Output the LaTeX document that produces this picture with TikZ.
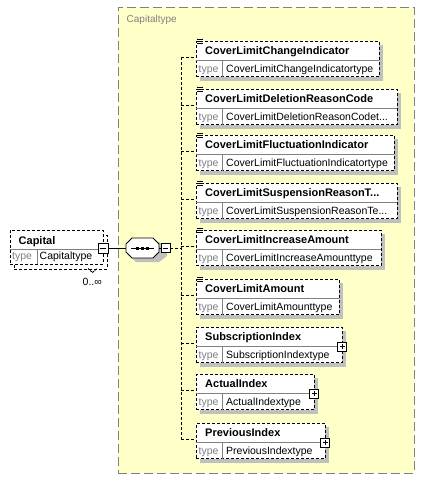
\documentclass[tikz,border=0pt]{standalone}
\usepackage{fontspec}
\setmainfont{Liberation Sans}
\usetikzlibrary{calc}
\definecolor{ylw}{HTML}{FFFFC8}
\definecolor{shadowc}{HTML}{C0C0C0}
\definecolor{divc}{HTML}{808080}
\definecolor{ctborder}{HTML}{808080}
\tikzset{
  lw/.style={line width=0.9pt},
  elbox/.style={draw, lw, dash pattern=on 3pt off 2pt, fill=white, inner sep=0pt, outer sep=0pt,
    anchor=north west, minimum height=35.5pt,
    preaction={fill=shadowc, transform canvas={xshift=4pt,yshift=-4pt}}},
  capframe/.style={draw, lw, dash pattern=on 3pt off 2pt, fill=white, inner sep=0pt, outer sep=0pt,
    anchor=north west, minimum width=93pt, minimum height=34pt},
  ctbox/.style={draw=ctborder, lw, dash pattern=on 9pt off 4pt, fill=ylw, inner sep=0pt, outer sep=0pt,
    anchor=north west, minimum width=296pt, minimum height=466pt},
  divline/.style={draw=divc, lw},
  conn/.style={lw, dash pattern=on 3pt off 2pt},
  nametxt/.style={font=\fontsize{11}{13}\selectfont\bfseries, inner sep=0pt, anchor=base west},
  typetxt/.style={font=\fontsize{10.5}{12}\selectfont, inner sep=0pt, anchor=base west},
  typelbl/.style={typetxt, text=divc},
  ctlbl/.style={font=\fontsize{10}{12}\selectfont, text=divc, inner sep=0pt, anchor=base west},
  sqbox/.style={draw, lw, fill=white, inner sep=0pt, outer sep=0pt, minimum size=9pt},
  sign/.style={lw, shorten >=2pt, shorten <=2pt},
}
% element box: id, top, right, name, type, icon, plus
\newcommand\xel[7]{%
  \node[elbox, minimum width={#3pt-196pt}] (#1) at (196,#2) {};
  \draw[divline] (196,{#2+19.5}) -- (#3,{#2+19.5});
  \draw[divline] (222,{#2+19.5}) -- (222,{#2+35.5});
  \node[nametxt] (#1n) at (205,{#2+13}) {#4};
  \node[typelbl] (#1l) at (198.5,{#2+31}) {type};
  \node[typetxt] (#1t) at (226,{#2+31}) {#5};
  \coordinate (#1c) at (196,{#2+16});
  \ifnum#6=1
    \draw[lw] (197,{#2-1.5}) -- (203,{#2-1.5}) (197,{#2+0.5}) -- (203,{#2+0.5}) (197,{#2+2.5}) -- (203,{#2+2.5});
  \fi
  \ifnum#7=1
    \node[sqbox] (#1x) at (#3,{#2+19.5}) {};
    \draw[sign] (#1x.west) -- (#1x.east);
    \draw[sign] (#1x.north) -- (#1x.south);
  \fi
}
\begin{document}
\begin{tikzpicture}[x=1pt,y=-1pt]
\useasboundingbox (0,0) rectangle (425,479);
\fill[white] (0,0) rectangle (425,479);

% complex type area
\node[ctbox] (ct) at (118,7) {};
\node[ctlbl] (ctl) at (126.5,22) {Capitaltype};

% child elements
\xel{e1}{41}{379}{CoverLimitChangeIndicator}{CoverLimitChangeIndicatortype}{1}{0}
\xel{e2}{89}{397}{CoverLimitDeletionReasonCode}{CoverLimitDeletionReasonCodet...}{1}{0}
\xel{e3}{135}{394}{CoverLimitFluctuationIndicator}{CoverLimitFluctuationIndicatortype}{1}{0}
\xel{e4}{183}{397}{CoverLimitSuspensionReasonT...}{CoverLimitSuspensionReasonTe...}{1}{0}
\xel{e5}{230}{381}{CoverLimitIncreaseAmount}{CoverLimitIncreaseAmounttype}{1}{0}
\xel{e6}{279}{339}{CoverLimitAmount}{CoverLimitAmounttype}{1}{0}
\xel{e7}{327}{342}{SubscriptionIndex}{SubscriptionIndextype}{0}{1}
\xel{e8}{374}{314}{ActualIndex}{ActualIndextype}{0}{1}
\xel{e9}{423}{325}{PreviousIndex}{PreviousIndextype}{0}{1}

% sequence connectors
\coordinate (vx) at (181,248);
\draw[conn] (e1c -| vx) -- (e9c -| vx);
\foreach \i in {1,...,9} { \draw[conn] (e\i c -| vx) -- (e\i c); }

% Capital element (stacked: 0..unbounded)
\node[capframe] (capb) at (14,235) {};
\node[capframe] (cap) at (10,230) {};
\draw[divline] (10,249) -- (103,249);
\draw[divline] (37,249) -- (37,264);
\node[nametxt] (capn) at (18.5,244) {Capital};
\node[typelbl] (capl) at (12,259) {type};
\node[typetxt] (capt) at (39.5,259) {Capitaltype};
\node[sqbox, minimum size=10pt] (capm) at (103,248) {};
\draw[sign] (capm.west) -- (capm.east);
\node[typetxt] (occ) at (82.5,285) {0..∞};
\draw[lw, dash pattern=on 2pt off 1pt] (88,268.5) -- (92.5,272.5) -- (97,268.5);

% sequence compositor
\fill[shadowc] (136,242) -- (159,242) -- (167,248) -- (167,256) -- (159,262) -- (136,262) -- (130,256) -- (130,248) -- cycle;
\node[inner sep=0pt, outer sep=0pt, minimum width=33pt, minimum height=20pt] (seq) at (142.5,248) {};
\draw[lw, fill=white] (132,238) -- (153,238) -- (159,244) -- (159,252) -- (153,258) -- (132,258) -- (126,252) -- (126,244) -- cycle;
\draw[lw] (131,248) -- (154,248);
\foreach \dx in {137.5,142.5,147.5} { \fill (\dx-1.5,246.5) rectangle (\dx+1.5,249.5); }
\draw[lw] (capm.east) -- (seq.west);
\node[sqbox] (seqm) at (165.5,248) {};
\draw[sign] (seqm.west) -- (seqm.east);
\draw[lw] (seq.east) -- (seqm.west);
\draw[conn] (seqm.east) -- (vx);
\end{tikzpicture}
\end{document}
